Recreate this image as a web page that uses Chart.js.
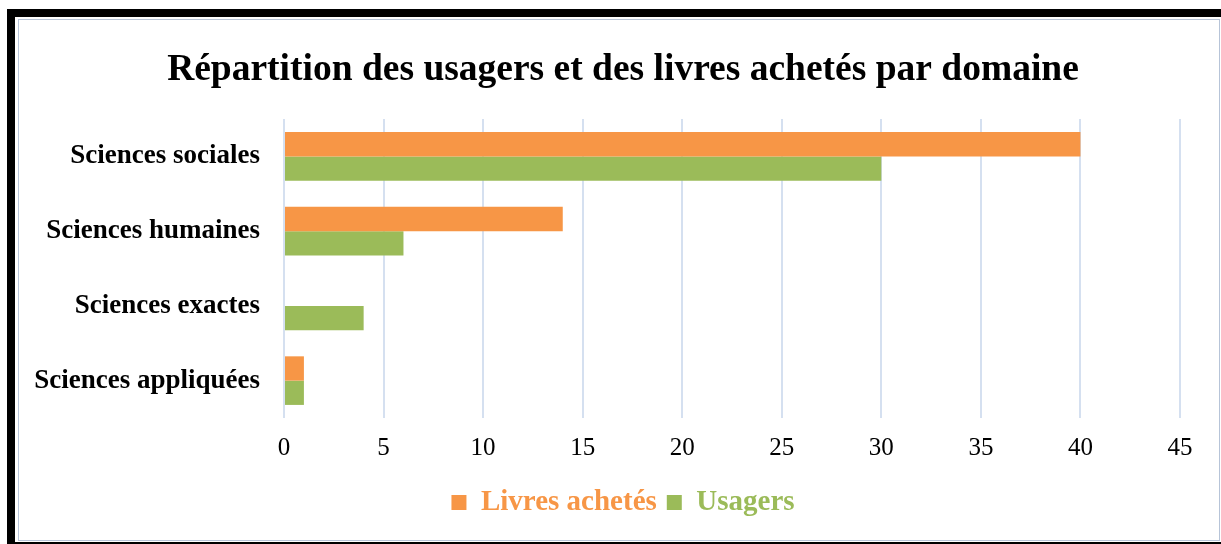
<!DOCTYPE html>
<html>
<head>
<meta charset="utf-8">
<script src="https://cdn.jsdelivr.net/npm/chart.js@4.4.1/dist/chart.umd.min.js"></script>
<style>
  html, body { margin: 0; padding: 0; background: #fff; }
  #cadre {
    position: absolute; left: 7px; top: 9px; width: 1214px; height: 535px;
    border-left: 8px solid #000; border-top: 8px solid #000; border-bottom: 2px solid #000;
    box-sizing: border-box;
  }
  #zone {
    position: absolute; left: 3px; top: 2px; right: 1px; bottom: 1px;
    border: 1px solid #b7c4d8; box-sizing: border-box;
  }
</style>
</head>
<body>
<div id="cadre"><div id="zone"><canvas id="graphique"></canvas></div></div>
<script>
// Données du graphique
const domaines = ['Sciences sociales', 'Sciences humaines', 'Sciences exactes', 'Sciences appliquées'];
const livresAchetes = [40, 14, 0, 1];
const usagers = [30, 6, 4, 1];
const couleurs = ['#f79646', '#9bbb59'];

const ctx = document.getElementById('graphique').getContext('2d');
new Chart(ctx, {
  type: 'bar',
  data: {
    labels: domaines,
    datasets: [
      { label: 'Livres achetés', data: livresAchetes, backgroundColor: couleurs[0] },
      { label: 'Usagers', data: usagers, backgroundColor: couleurs[1] }
    ]
  },
  options: {
    indexAxis: 'y',
    responsive: true,
    maintainAspectRatio: false,
    animation: false,
    categoryPercentage: 0.65,
    barPercentage: 1,
    layout: { padding: { left: 8, right: 0, top: 0, bottom: 13 } },
    plugins: {
      title: {
        display: true,
        text: 'Répartition des usagers et des livres achetés par domaine',
        color: '#000',
        font: { family: 'Liberation Serif', size: 37.5, weight: 'bold' },
        padding: { top: 28, bottom: 26 }
      },
      legend: {
        position: 'bottom',
        labels: {
          font: { family: 'Liberation Serif', size: 29, weight: 'bold' },
          boxWidth: 15,
          boxHeight: 15,
          padding: 10,
          generateLabels: function(chart) {
            return chart.data.datasets.map((ds, i) => ({
              text: ds.label,
              fillStyle: ds.backgroundColor,
              strokeStyle: ds.backgroundColor,
              lineWidth: 0,
              fontColor: ds.backgroundColor,
              datasetIndex: i
            }));
          }
        }
      },
      tooltip: { enabled: false }
    },
    scales: {
      x: {
        min: 0,
        max: 45,
        ticks: {
          stepSize: 5,
          color: '#000',
          padding: 15,
          font: { family: 'Liberation Serif', size: 25 }
        },
        grid: { color: '#d5e0f0', lineWidth: 2, drawTicks: false },
        border: { display: false }
      },
      y: {
        afterFit: function(scale) { scale.width = 257; },
        ticks: {
          color: '#000',
          padding: 24,
          font: { family: 'Liberation Serif', size: 27, weight: 'bold' }
        },
        grid: { display: false, drawTicks: false },
        border: { display: false }
      },
      // marge à droite du graphique
      y2: {
        type: 'category',
        position: 'right',
        afterFit: function(scale) { scale.width = 39; },
        ticks: { display: false },
        grid: { display: false, drawTicks: false },
        border: { display: false }
      }
    }
  }
});
</script>
</body>
</html>
